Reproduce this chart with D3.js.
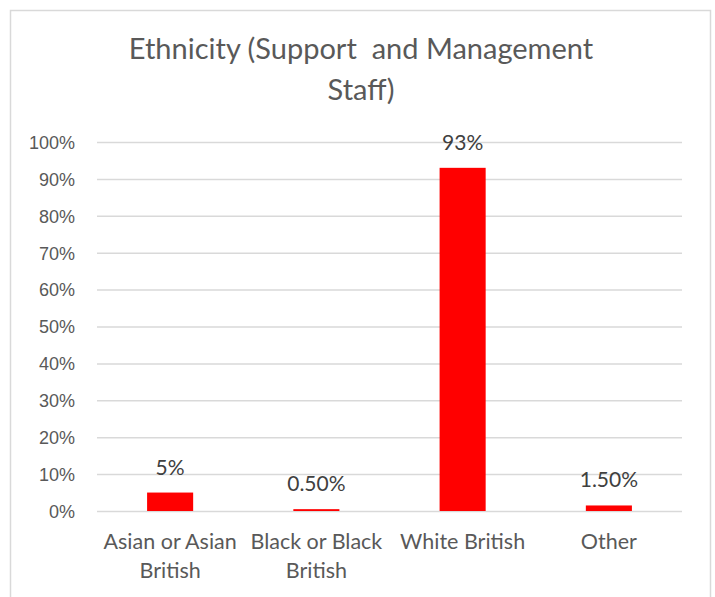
<!DOCTYPE html>
<html>
<head>
<meta charset="utf-8">
<script src="https://cdn.jsdelivr.net/npm/d3@7"></script>
<style>
  html, body { margin: 0; padding: 0; background: #fff; }
  svg { display: block; font-family: Lato, "Open Sans", sans-serif; }
</style>
</head>
<body>
<svg id="chart" width="715" height="597"></svg>
<script>
// Staff ethnicity breakdown (support and management)
const categories = [["Asian or Asian", "British"], ["Black or Black", "British"], ["White British"], ["Other"]];
const values = [0.05, 0.005, 0.93, 0.015];
const valueLabels = ["5%", "0.50%", "93%", "1.50%"];
const yTicks = [0, 0.1, 0.2, 0.3, 0.4, 0.5, 0.6, 0.7, 0.8, 0.9, 1.0];
const titleLines = ["Ethnicity (Support  and Management", "Staff)"];

const svg = d3.select("#chart");
const W = 715, H = 597;
const textColor = "#595959";
const gridColor = "#d9d9d9";

// chart frame
svg.append("rect")
  .attr("x", 10.5).attr("y", 10.5)
  .attr("width", 700).attr("height", H + 20)
  .attr("fill", "#fff").attr("stroke", gridColor).attr("stroke-width", 1.5);

const plot = { left: 97, right: 682, top: 142, bottom: 511 };

const x = d3.scaleBand()
  .domain(d3.range(categories.length))
  .range([plot.left, plot.right])
  .paddingInner(0.685)
  .paddingOuter(0.3425);

const y = d3.scaleLinear().domain([0, 1]).range([plot.bottom, plot.top]);

// title (two lines, keeps the double space)
svg.append("text")
  .attr("x", 361).attr("y", 59)
  .attr("text-anchor", "middle")
  .attr("fill", textColor)
  .attr("xml:space", "preserve")
  .style("white-space", "pre")
  .style("font-size", "29px")
  .selectAll("tspan")
  .data(titleLines)
  .join("tspan")
  .attr("x", 361)
  .attr("dy", (d, i) => i === 0 ? 0 : 41)
  .text(d => d);

// y axis with gridlines
const yAxis = d3.axisLeft(y)
  .tickValues(yTicks)
  .tickSize(-(plot.right - plot.left))
  .tickPadding(22)
  .tickFormat(d3.format(".0%"));

const gy = svg.append("g")
  .attr("transform", `translate(${plot.left},0)`)
  .call(yAxis);
gy.select(".domain").remove();
gy.selectAll(".tick line").attr("stroke", gridColor).attr("stroke-width", 1.5);
gy.selectAll(".tick text")
  .attr("fill", textColor)
  .attr("dy", "0.35em")
  .style("font-size", "18px");

// bars
svg.append("g")
  .selectAll("rect")
  .data(values)
  .join("rect")
  .attr("x", (d, i) => x(i))
  .attr("y", d => y(d))
  .attr("width", x.bandwidth())
  .attr("height", d => y(0) - y(d))
  .attr("fill", "#ff0000");

// value labels
svg.append("g")
  .selectAll("text")
  .data(values)
  .join("text")
  .attr("x", (d, i) => x(i) + x.bandwidth() / 2)
  .attr("y", d => y(d) - 18)
  .attr("text-anchor", "middle")
  .attr("fill", "#404040")
  .style("font-size", "21px")
  .text((d, i) => valueLabels[i]);

// category labels
const catG = svg.append("g");
categories.forEach((lines, i) => {
  const t = catG.append("text")
    .attr("x", x(i) + x.bandwidth() / 2)
    .attr("y", 549)
    .attr("text-anchor", "middle")
    .attr("fill", textColor)
    .style("font-size", "21.5px");
  lines.forEach((ln, j) => {
    t.append("tspan")
      .attr("x", x(i) + x.bandwidth() / 2)
      .attr("dy", j === 0 ? 0 : 29)
      .text(ln);
  });
});
</script>
</body>
</html>
